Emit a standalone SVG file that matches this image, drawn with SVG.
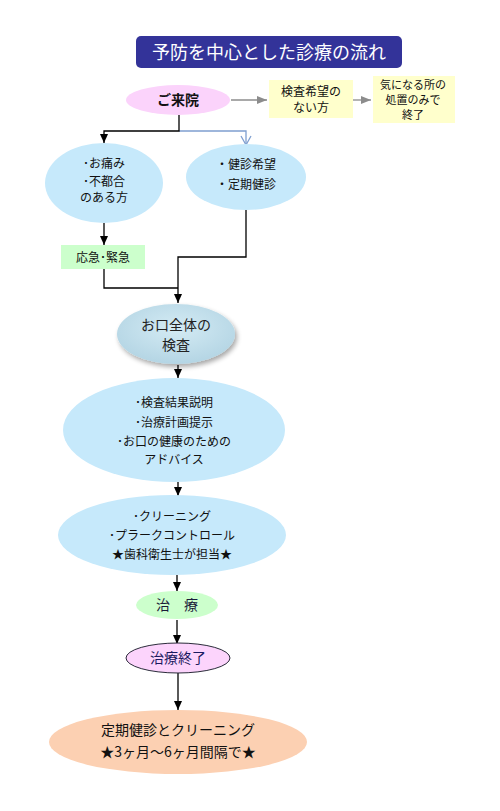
<svg xmlns="http://www.w3.org/2000/svg" width="500" height="811" viewBox="0 0 500 811">
<style>
text{font-family:"Noto Sans CJK JP","Noto Sans",sans-serif;text-anchor:middle;fill:#111}
.t11{font-size:11px}
.t12{font-size:12px}
.t13{font-size:13px}
.t14{font-size:14px}
.blk{stroke:#000;stroke-width:1.3;fill:none}
.gry{stroke:#8c8c8c;stroke-width:1.3;fill:none}
.blu{stroke:#7f9fd0;stroke-width:1.3;fill:none}
.lb{fill:#c6e9fb}
</style>
<defs>
<marker id="ab" markerWidth="10" markerHeight="10" refX="9" refY="5" orient="auto" markerUnits="userSpaceOnUse"><path d="M0,1 L9,5 L0,9 Z" fill="#000"/></marker>
<marker id="ag" markerWidth="12" markerHeight="10" refX="10" refY="5" orient="auto" markerUnits="userSpaceOnUse"><path d="M0,1 L10,5 L0,9 Z" fill="#8c8c8c"/></marker>
<marker id="ao" markerWidth="12" markerHeight="12" refX="10" refY="6" orient="auto" markerUnits="userSpaceOnUse"><path d="M1,1 L10,6 L1,11" fill="none" stroke="#7f9fd0" stroke-width="1.3"/></marker>
<radialGradient id="gk" cx="50%" cy="40%" r="60%"><stop offset="0" stop-color="#d4ebf4"/><stop offset="1" stop-color="#b4d5e4"/></radialGradient>
<filter id="sh" x="-20%" y="-20%" width="140%" height="150%"><feGaussianBlur in="SourceAlpha" stdDeviation="2.5"/><feOffset dx="2" dy="3"/><feComponentTransfer><feFuncA type="linear" slope="0.35"/></feComponentTransfer><feMerge><feMergeNode/><feMergeNode in="SourceGraphic"/></feMerge></filter>
</defs>
<rect width="500" height="811" fill="#fff"/>

<g id="connectors">
<line class="gry" x1="231" y1="100" x2="267" y2="100" marker-end="url(#ag)"/>
<line class="gry" x1="353" y1="100" x2="371" y2="100" marker-end="url(#ag)"/>
<polyline class="blu" points="179,131 246,131 246,145" marker-end="url(#ao)"/>
<polyline class="blk" points="179,115 179,131 104,131 104,143" marker-end="url(#ab)"/>
<line class="blk" x1="104" y1="223" x2="104" y2="245" marker-end="url(#ab)"/>
<polyline class="blk" points="104,269 104,288 178,288"/>
<polyline class="blk" points="246,210 246,257 178,257 178,303" marker-end="url(#ab)"/>
<line class="blk" x1="178" y1="365" x2="178" y2="378" marker-end="url(#ab)"/>
<line class="blk" x1="178" y1="482" x2="178" y2="496" marker-end="url(#ab)"/>
<line class="blk" x1="177" y1="575" x2="177" y2="591" marker-end="url(#ab)"/>
<line class="blk" x1="177" y1="620" x2="177" y2="644" marker-end="url(#ab)"/>
<line class="blk" x1="178" y1="673" x2="178" y2="710" marker-end="url(#ab)"/>
</g>

<g id="title">
<rect x="136" y="36" width="266" height="32" rx="5" fill="#333399"/>
<text x="269" y="59" style="font-size:18px;fill:#fff">予防を中心とした診療の流れ</text>
</g>

<g id="raiin">
<ellipse cx="178" cy="100" rx="52" ry="15" fill="#fbd3fb"/>
<text x="178" y="105" class="t14" style="font-weight:bold">ご来院</text>
</g>

<g id="nokensa">
<rect x="269" y="80" width="84" height="38" fill="#ffffcc"/>
<text x="311" y="96" class="t12">検査希望の</text>
<text x="311" y="112" class="t12">ない方</text>
</g>

<g id="shochi">
<rect x="373" y="76" width="82" height="47" fill="#ffffcc"/>
<text x="413" y="89" class="t11">気になる所の</text>
<text x="413" y="104" class="t11">処置のみで</text>
<text x="413" y="119" class="t11">終了</text>
</g>

<g id="itami">
<ellipse class="lb" cx="104" cy="183" rx="59" ry="40"/>
<text x="104" y="168" class="t12">･お痛み</text>
<text x="104" y="186" class="t12">･不都合</text>
<text x="104" y="202" class="t12">のある方</text>
</g>

<g id="kenshin">
<ellipse class="lb" cx="246" cy="177" rx="60" ry="33"/>
<text x="246" y="169" class="t12">・健診希望</text>
<text x="246" y="189" class="t12">・定期健診</text>
</g>

<g id="kyukyu">
<rect x="61" y="245" width="84" height="24" fill="#ccffcc"/>
<text x="103" y="262" class="t12">応急･緊急</text>
</g>

<g id="zentai">
<ellipse cx="176" cy="334" rx="59" ry="30" fill="url(#gk)" filter="url(#sh)"/>
<text x="176" y="330" class="t14" style="fill:#222">お口全体の</text>
<text x="176" y="350" class="t14" style="fill:#222">検査</text>
</g>

<g id="setsumei">
<ellipse class="lb" cx="174" cy="430" rx="111" ry="52"/>
<text x="174" y="407" class="t12">･検査結果説明</text>
<text x="174" y="427" class="t12">･治療計画提示</text>
<text x="174" y="446" class="t12">･お口の健康のための</text>
<text x="174" y="464" class="t12">アドバイス</text>
</g>

<g id="cleaning">
<ellipse class="lb" cx="172" cy="535" rx="114" ry="40"/>
<text x="172" y="521" class="t12">･クリーニング</text>
<text x="172" y="540" class="t12">･プラークコントロール</text>
<text x="172" y="559" class="t12">★歯科衛生士が担当★</text>
</g>

<g id="chiryo">
<ellipse cx="177" cy="605" rx="41" ry="14" fill="#ccffcc"/>
<text x="177" y="610" class="t14" style="fill:#1a1a3a">治　療</text>
</g>

<g id="shuryo">
<ellipse cx="178" cy="658" rx="52" ry="15" fill="#fcd4fc" stroke="#2a2a3a" stroke-width="1"/>
<text x="178" y="663" class="t14" style="fill:#1a1a60">治療終了</text>
</g>

<g id="teiki">
<ellipse cx="178" cy="742" rx="129" ry="32" fill="#fcd0b2"/>
<text x="178" y="735" class="t14">定期健診とクリーニング</text>
<text x="178" y="757" class="t14">★3ヶ月～6ヶ月間隔で★</text>
</g>
</svg>
